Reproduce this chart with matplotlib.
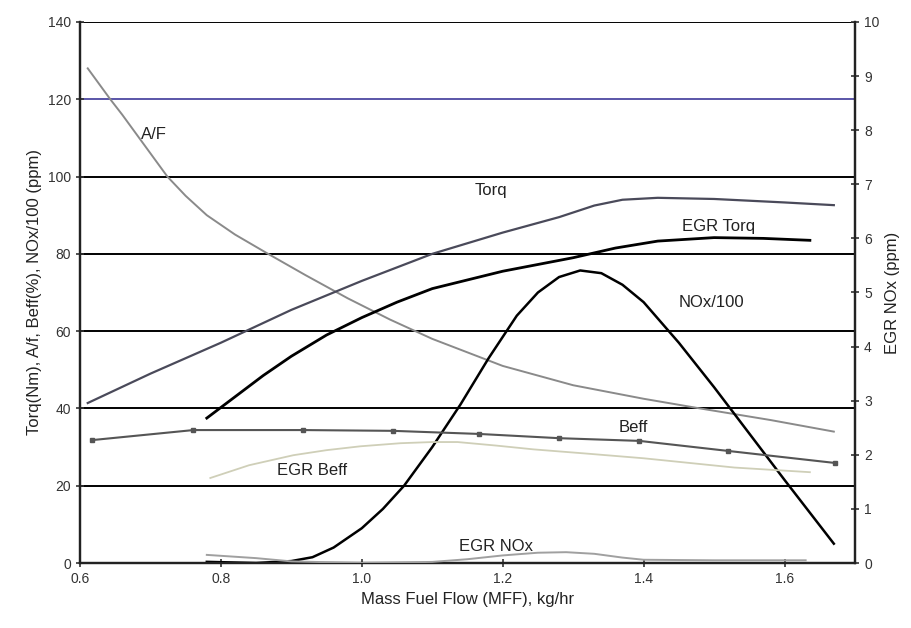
import matplotlib.pyplot as plt
import numpy as np

plt.rcParams['font.family'] = ['Liberation Sans', 'DejaVu Sans']

# Data (x = mass fuel flow, kg/hr)
af_x = [0.611, 0.625, 0.643, 0.66, 0.68, 0.70, 0.724, 0.75, 0.78, 0.82, 0.867,
        0.92, 0.98, 1.04, 1.1, 1.2, 1.3, 1.4, 1.48, 1.58, 1.67]
af_y = [128, 124.5, 120, 116, 111, 106, 100, 95, 90, 85, 80,
        74.5, 68.5, 63, 58, 51, 46, 42.5, 40, 37, 34]

torq_x = [0.611, 0.7, 0.8, 0.9, 1.0, 1.1, 1.2, 1.28, 1.33, 1.37, 1.42, 1.5, 1.6, 1.67]
torq_y = [41.4, 49, 57, 65.5, 73, 80, 85.5, 89.5, 92.5, 94, 94.5, 94.2, 93.3, 92.6]

egr_torq_x = [0.78, 0.82, 0.86, 0.9, 0.95, 1.0, 1.05, 1.1, 1.2, 1.3, 1.36,
              1.42, 1.5, 1.57, 1.636]
egr_torq_y = [37.5, 43, 48.5, 53.5, 59, 63.5, 67.5, 71, 75.5, 79, 81.5,
              83.3, 84.2, 84, 83.5]

nox_x = [0.78, 0.85, 0.9, 0.93, 0.96, 1.0, 1.03, 1.06, 1.1, 1.14, 1.18, 1.22,
         1.25, 1.28, 1.31, 1.34, 1.37, 1.4, 1.45, 1.5, 1.55, 1.6, 1.67]
nox_y = [0.3, 0, 0.5, 1.5, 4, 9, 14, 20, 30, 41, 53, 64,
         70, 74, 75.7, 75, 72, 67.5, 57, 45.5, 33.5, 21.5, 5]

beff_x = [0.617, 0.761, 0.917, 1.044, 1.166, 1.28, 1.394, 1.52, 1.671]
beff_y = [31.8, 34.4, 34.4, 34.2, 33.4, 32.3, 31.6, 29.0, 25.9]

egr_beff_x = [0.785, 0.84, 0.903, 0.95, 0.998, 1.055, 1.1, 1.136, 1.19, 1.244,
              1.32, 1.4, 1.47, 1.529, 1.636]
egr_beff_y = [22, 25.3, 27.9, 29.2, 30.2, 31.0, 31.3, 31.3, 30.4, 29.4,
              28.3, 27.1, 25.8, 24.7, 23.5]

egr_nox_x = [0.78, 0.85, 0.9, 1.0, 1.1, 1.15, 1.2, 1.25, 1.29, 1.33, 1.37,
             1.4, 1.5, 1.63]
egr_nox_y = [0.15, 0.09, 0.03, 0.0, 0.02, 0.07, 0.14, 0.19, 0.2, 0.17, 0.1,
             0.06, 0.05, 0.05]

x_ticks = [0.6, 0.8, 1.0, 1.2, 1.4, 1.6]
left_ticks = [0, 20, 40, 60, 80, 100, 120, 140]
right_ticks = list(range(0, 11))

fig = plt.figure(figsize=(9.11, 6.28), dpi=100)
ax = fig.add_axes([0.0878, 0.1035, 0.8507, 0.8615])
ax2 = ax.twinx()

# horizontal grid lines
for v in left_ticks[1:]:
    c = '#5a55a8' if v == 120 else 'black'
    ax.axhline(v, color=c, lw=1.4, zorder=1)

ax.plot(af_x, af_y, color='#8a8a8a', lw=1.4, zorder=3)
ax.plot(torq_x, torq_y, color='#4a4a5a', lw=1.6, zorder=3)
ax.plot(egr_torq_x, egr_torq_y, color='black', lw=2.0, zorder=3)
ax.plot(nox_x, nox_y, color='black', lw=1.8, zorder=3)
ax.plot(beff_x, beff_y, color='#555555', lw=1.5, marker='s', ms=3, zorder=3)
ax.plot(egr_beff_x, egr_beff_y, color='#cfcfb8', lw=1.3, zorder=3)
ax2.plot(egr_nox_x, egr_nox_y, color='#a0a0a0', lw=1.4, zorder=3)

ax.set_xlim(0.6, 1.7)
ax.set_ylim(0, 140)
ax2.set_ylim(0, 10)
ax.set_xticks(x_ticks)
ax.set_xticklabels(['%.1f' % v for v in x_ticks])
ax.set_yticks(left_ticks)
ax2.set_yticks(right_ticks)

ax.tick_params(axis='both', labelsize=10, colors='#333333', direction='inout',
               length=6, width=1.2)
ax2.tick_params(axis='y', labelsize=10, colors='#333333', direction='inout',
                length=6, width=1.2)

for a in (ax, ax2):
    for s in a.spines.values():
        s.set_linewidth(1.6)
        s.set_color('#222222')
ax.spines['top'].set_visible(False)
ax2.spines['top'].set_visible(False)

ax.set_xlabel('Mass Fuel Flow (MFF), kg/hr', fontsize=12, color='#222222')
ax.set_ylabel('Torq(Nm), A/f, Beff(%), NOx/100 (ppm)', fontsize=12, color='#222222')
ax2.set_ylabel('EGR NOx (ppm)', fontsize=12, color='#222222')

labels = [('A/F', 0.705, 111), ('Torq', 1.183, 96.5), ('EGR Torq', 1.506, 87),
          ('NOx/100', 1.496, 67.5), ('Beff', 1.385, 35), ('EGR Beff', 0.93, 24),
          ('EGR NOx', 1.19, 4.2)]
for t, x, y in labels:
    ax.text(x, y, t, fontsize=12, ha='center', va='center', color='#222222', zorder=4)

fig.savefig('out.png', dpi=100)
